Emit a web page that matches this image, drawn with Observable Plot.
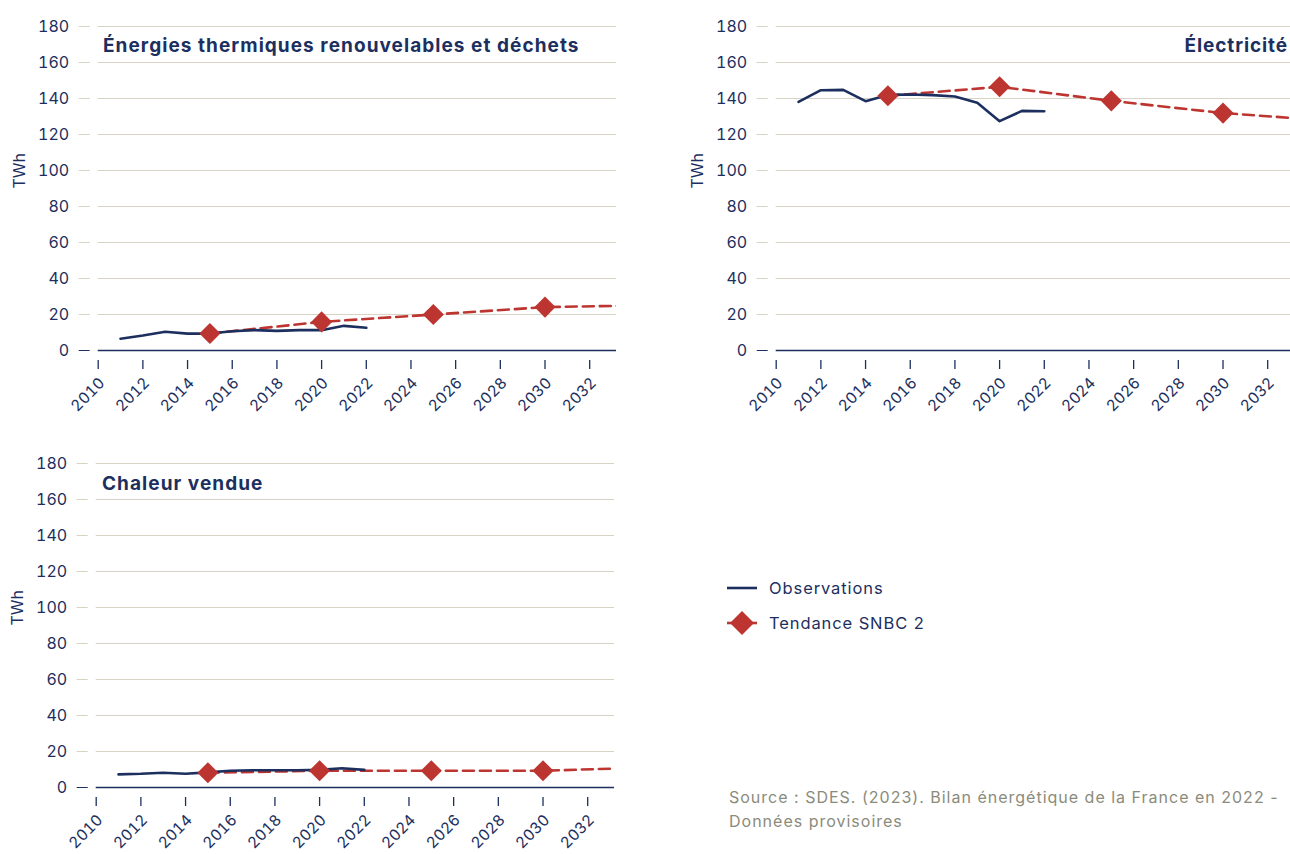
<!DOCTYPE html>
<html><head><meta charset="utf-8">
<script src="https://cdn.jsdelivr.net/npm/d3@7"></script>
<script src="https://cdn.jsdelivr.net/npm/@observablehq/plot@0.6"></script>
<style>
html,body{margin:0;padding:0;background:#fff;overflow:hidden;width:1290px;height:854px;}
#root{position:relative;width:1290px;height:854px;overflow:hidden;font-family:Inter,"Noto Sans",sans-serif;color:#1c2f5e;}
.panel{position:absolute;}
.title{position:absolute;font-size:19px;line-height:19px;font-weight:700;color:#1c2f5e;letter-spacing:1.05px;white-space:nowrap;}
.legend{position:absolute;left:727px;font-size:16.5px;letter-spacing:0.9px;color:#1c2f5e;display:flex;align-items:center;height:24px;white-space:nowrap;}
.legend svg{margin-right:12px;}
.source{position:absolute;left:729px;top:785px;font-size:16px;line-height:24px;letter-spacing:1px;color:#8b8b7b;white-space:nowrap;}
</style>
</head><body>
<div id="root"></div>
<script>
const NAVY = "#1c2f5e";
const RED = "#bd3530";
const GRID = "#d7d4c6";

// Data
const obsYears = [2011, 2012, 2013, 2014, 2015, 2016, 2017, 2018, 2019, 2020, 2021, 2022];
const trendYears = [2015, 2020, 2025, 2030, 2035];
const markerYears = [2015, 2020, 2025, 2030];

const thermObs = [6.5, 8.3, 10.4, 9.4, 9.4, 10.7, 11.3, 10.9, 11.3, 11.3, 13.7, 12.6];
const thermTrend = [9.4, 15.9, 20.0, 24.1, 25.2];

const elecObs = [138.1, 144.6, 144.8, 138.5, 142.0, 142.2, 141.9, 141.1, 137.6, 127.4, 133.1, 132.9];
const elecTrend = [141.5, 146.5, 138.7, 131.9, 127.5];

const heatObs = [7.3, 7.6, 8.2, 7.6, 8.4, 9.3, 9.6, 9.6, 9.6, 9.8, 10.7, 9.8];
const heatTrend = [8.2, 9.3, 9.3, 9.3, 11.2];

const yTicks = [0, 20, 40, 60, 80, 100, 120, 140, 160, 180];
const xTicks = [2010, 2012, 2014, 2016, 2018, 2020, 2022, 2024, 2026, 2028, 2030, 2032];

const titles = {
  therm: "Énergies thermiques renouvelables et déchets",
  elec: "Électricité",
  heat: "Chaleur vendue"
};
const yLabel = "TWh";
const legendLabels = ["Observations", "Tendance SNBC 2"];
const sourceLines = ["Source : SDES. (2023). Bilan énergétique de la France en 2022 -", "Données provisoires"];

function panel(obs, trend) {
  const obsData = obsYears.map((year, i) => ({year, value: obs[i]}));
  const trendData = trendYears.map((year, i) => ({year, value: trend[i]}));
  const markerData = trendData.filter(d => markerYears.includes(d.year));
  return Plot.plot({
    width: 630,
    height: 420,
    marginLeft: 97.7,
    marginRight: 14,
    marginTop: 26,
    marginBottom: 70,
    style: {fontFamily: "Inter, 'Noto Sans', sans-serif", fontSize: "16px", color: NAVY, background: "transparent", overflow: "visible"},
    x: {type: "linear", domain: [2010, 2033.2]},
    y: {domain: [0, 180]},
    marks: [
      Plot.gridY(yTicks.filter(d => d > 0), {stroke: GRID, strokeOpacity: 1, strokeWidth: 1}),
      Plot.axisY(yTicks.filter(d => d > 0), {stroke: GRID, strokeOpacity: 1, fill: NAVY, tickSize: 11, dx: -8, tickPadding: 10, label: null, fontSize: 16}),
      Plot.axisY([0], {stroke: NAVY, strokeOpacity: 1, fill: NAVY, tickSize: 11, dx: -8, tickPadding: 10, label: null, fontSize: 16}),
      Plot.axisX(xTicks, {stroke: NAVY, tickSize: 9, dy: 10, tickFormat: () => "", label: null, strokeWidth: 1.3}),
      Plot.axisX(xTicks, {tickSize: 0, dy: 16, dx: 4, tickPadding: 14, tickRotate: -45, fill: NAVY, tickFormat: d3.format("d"), label: null, fontSize: 15.5}),
      Plot.ruleY([0], {stroke: NAVY, strokeWidth: 1.6}),
      Plot.text([yLabel], {frameAnchor: "left", dx: -78, rotate: -90, fill: NAVY, fontSize: 16}),
      Plot.line(trendData, {x: "year", y: "value", stroke: RED, strokeWidth: 2.6, strokeDasharray: "11,6", clip: true}),
      Plot.line(obsData, {x: "year", y: "value", stroke: NAVY, strokeWidth: 2.6}),
      Plot.dot(markerData, {x: "year", y: "value", symbol: "diamond2", r: 9.5, fill: RED, stroke: "none"})
    ]
  });
}

const root = document.getElementById("root");
function place(el, left, top) {
  el.classList.add("panel");
  el.style.left = left + "px";
  el.style.top = top + "px";
  root.appendChild(el);
}
function addTitle(text, style) {
  const d = document.createElement("div");
  d.className = "title";
  d.textContent = text;
  Object.assign(d.style, style);
  root.appendChild(d);
}
place(panel(thermObs, thermTrend), 0, 0);
place(panel(elecObs, elecTrend), 678, 0);
place(panel(heatObs, heatTrend), -2.5, 437);

addTitle(titles.therm, {left: "103px", top: "36px"});
addTitle(titles.elec, {right: "2px", top: "36px", letterSpacing: "0.9px"});
addTitle(titles.heat, {left: "102px", top: "474px"});

// Legend
const leg1 = document.createElement("div");
leg1.className = "legend";
leg1.style.top = "576px";
leg1.innerHTML = `<svg width="30" height="24"><line x1="0" x2="30" y1="12" y2="12" stroke="${NAVY}" stroke-width="2.6"/></svg><span>${legendLabels[0]}</span>`;
root.appendChild(leg1);
const leg2 = document.createElement("div");
leg2.className = "legend";
leg2.style.top = "611px";
leg2.innerHTML = `<svg width="30" height="26"><line x1="0" x2="30" y1="13" y2="13" stroke="${RED}" stroke-width="2.6"/><path d="M15 1 L27 13 L15 25 L3 13 Z" fill="${RED}"/></svg><span>${legendLabels[1]}</span>`;
root.appendChild(leg2);

const src = document.createElement("div");
src.className = "source";
src.innerHTML = sourceLines.join("<br>");
root.appendChild(src);
</script>
</body></html>
